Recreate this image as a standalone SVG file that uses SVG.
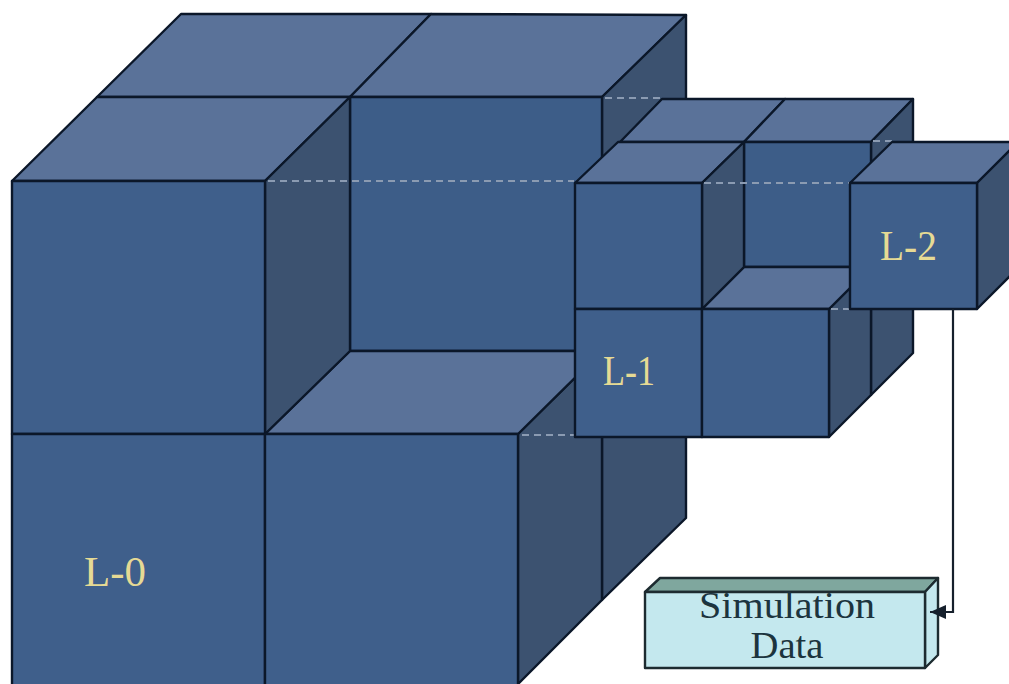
<svg xmlns="http://www.w3.org/2000/svg" width="1009" height="684" viewBox="0 0 1009 684">
<style>
.f{fill:#3f5f8b}
.w{fill:#3d5d88}
.t{fill:#5a7299}
.s{fill:#3c5270}
.f,.w,.t,.s{stroke:#0b1729;stroke-width:2.4;stroke-linejoin:round}
.d{fill:none;stroke:#8b9bb2;stroke-width:2;stroke-dasharray:7 5}
.l{fill:#e6da94;font-family:"Liberation Serif",serif;font-size:43px}
.b{fill:#1c343e;font-family:"Liberation Serif",serif;font-size:37px;text-anchor:middle}
.c{fill:none;stroke:#16202c;stroke-width:2.2}
.x{stroke:#1d2b30;stroke-width:2.4;stroke-linejoin:round}
</style>
<defs>
<marker id="ah" markerWidth="18" markerHeight="16" refX="16" refY="7" orient="auto" markerUnits="userSpaceOnUse"><path d="M16 7L0 0V14Z" fill="#16202c"/></marker>
</defs>
<rect width="1009" height="684" fill="#fff"/>
<g id="cube-l0">
<polygon class="t" points="97,97 181,14 431,14 350,97"/>
<polygon class="t" points="350,97 431,14 686,15 602,97"/>
<polygon class="s" points="602,97 686,15 686,518 602,600"/>
<polygon class="w" points="350,97 602,97 602,351 350,351"/>
<polygon class="s" points="518,434 602,351 602,600 518,684"/>
<polygon class="t" points="265,434 350,351 602,351 518,434"/>
<polygon class="t" points="12,181 97,97 350,97 265,181"/>
<polygon class="s" points="265,181 350,97 350,351 265,434"/>
<rect class="f" x="12" y="181" width="253" height="253"/>
<rect class="f" x="12" y="434" width="253" height="252"/>
<rect class="f" x="265" y="434" width="253" height="252"/>
<path class="d" d="M268 181H574M605 98H660M522 435H574"/>
<text class="l" x="84" y="586" textLength="62" lengthAdjust="spacingAndGlyphs">L-0</text>
</g>
<g id="cube-l1">
<polygon class="t" points="620,142 662,99 785,99 744,142"/>
<polygon class="t" points="744,142 785,99 913,99 871,142"/>
<polygon class="s" points="871,142 913,99 913,353 871,395"/>
<polygon class="w" points="744,142 871,142 871,267 744,267"/>
<polygon class="s" points="829,309 871,267 871,395 829,437"/>
<polygon class="t" points="702,309 744,267 871,267 829,309"/>
<polygon class="t" points="575,183 618,142 744,142 702,183"/>
<polygon class="s" points="702,183 744,142 744,267 702,309"/>
<rect class="f" x="575" y="183" width="127" height="126"/>
<rect class="f" x="575" y="309" width="127" height="128"/>
<rect class="f" x="702" y="309" width="127" height="128"/>
<path class="d" d="M704 183H850M873 141H892M831 309H850"/>
<text class="l" x="603" y="385" textLength="52" lengthAdjust="spacingAndGlyphs">L-1</text>
</g>
<g id="cube-l2">
<polygon class="t" points="850,183 892,142 1019,142 977,183"/>
<polygon class="s" points="977,183 1019,141 1019,267 977,309"/>
<rect class="f" x="850" y="183" width="127" height="126"/>
<text class="l" x="880" y="260" textLength="57" lengthAdjust="spacingAndGlyphs">L-2</text>
</g>
<g id="simulation-data">
<polygon class="x" points="645,592 660,578 938,578 925,592" fill="#7fa79e"/>
<polygon class="x" points="925,592 938,578 938,655 925,668" fill="#c4e8ee"/>
<rect class="x" x="645" y="592" width="280" height="76" fill="#c4e8ee"/>
<text class="b" x="787" y="618" textLength="176" lengthAdjust="spacingAndGlyphs">Simulation</text>
<text class="b" x="787" y="658" textLength="73" lengthAdjust="spacingAndGlyphs">Data</text>
</g>
<g id="connectors">
<path class="c" d="M953 309V612H930" marker-end="url(#ah)"/>
</g>
</svg>
